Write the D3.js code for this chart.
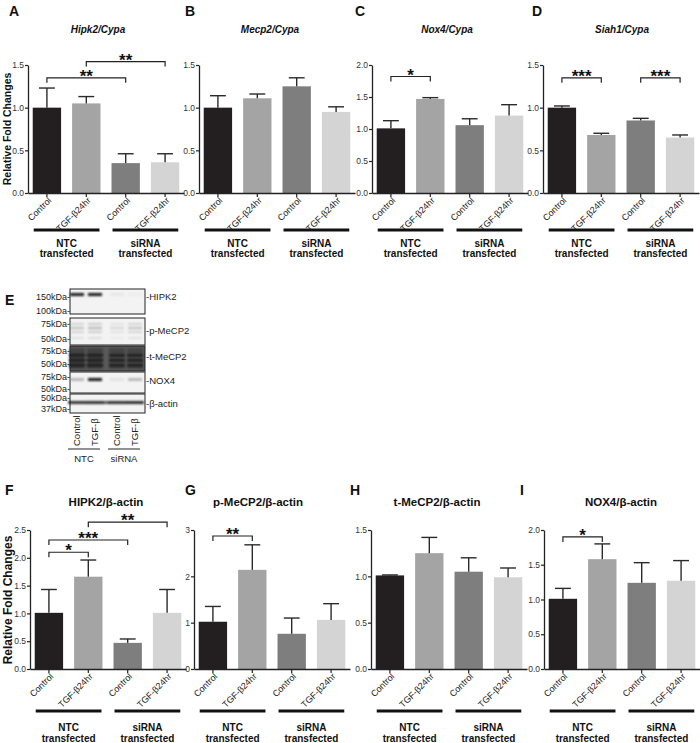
<!DOCTYPE html>
<html><head><meta charset="utf-8">
<script src="https://cdn.jsdelivr.net/npm/d3@7"></script>
<style>
body{margin:0;background:#fff;}
svg text{font-family:Arial,"Liberation Sans",sans-serif;}
</style></head>
<body><svg id="c" width="700" height="743"></svg>
<script>
// ---------------- DATA ----------------
const conditions = ["Control","TGF-β24hr","Control","TGF-β24hr"];
const groups = ["NTC","siRNA"];
const groupSub = "transfected";
const barColors = ["#231f20","#a4a4a4","#7e7e7e","#d4d4d4"];

const hipk2Mean = [1.00, 1.05, 0.35, 0.36];
const hipk2Err  = [1.23, 1.13, 0.46, 0.46];
const hipk2Sig  = [{a:0,b:2,y:1.35,label:"**"},{a:1,b:3,y:1.54,label:"**"}];

const mecp2Mean = [1.00, 1.11, 1.25, 0.95];
const mecp2Err  = [1.14, 1.16, 1.35, 1.01];
const mecp2Sig  = [];

const nox4Mean = [1.01, 1.47, 1.06, 1.21];
const nox4Err  = [1.13, 1.49, 1.16, 1.38];
const nox4Sig  = [{a:0,b:1,y:1.82,label:"*"}];

const siah1Mean = [1.00, 0.68, 0.85, 0.65];
const siah1Err  = [1.02, 0.70, 0.875, 0.68];
const siah1Sig  = [{a:0,b:1,y:1.35,label:"***"},{a:2,b:3,y:1.35,label:"***"}];

const HIPK2Mean = [1.01, 1.66, 0.47, 1.01];
const HIPK2Err  = [1.43, 1.96, 0.54, 1.43];
const HIPK2Sig  = [{a:0,b:1,y:2.10,label:"*"},{a:0,b:2,y:2.32,label:"***"},{a:1,b:3,y:2.64,label:"**"}];

const pMeCP2Mean = [1.02, 2.14, 0.76, 1.06];
const pMeCP2Err  = [1.35, 2.68, 1.10, 1.41];
const pMeCP2Sig  = [{a:0,b:1,y:2.87,label:"**"}];

const tMeCP2Mean = [1.01, 1.25, 1.05, 0.99];
const tMeCP2Err  = [1.015, 1.42, 1.20, 1.09];
const tMeCP2Sig  = [];

const NOX4Mean = [1.01, 1.58, 1.24, 1.27];
const NOX4Err  = [1.16, 1.80, 1.53, 1.56];
const NOX4Sig  = [{a:0,b:1,y:1.90,label:"*"}];

const ticks15 = [0,0.5,1.0,1.5];
const ticks20 = [0,0.5,1.0,1.5,2.0];
const ticks25 = [0,0.5,1.0,1.5,2.0,2.5];
const ticks3  = [0,1,2,3];

// Western blot
const blotLanes = ["Control","TGF-β","Control","TGF-β"];
const blotGroups = ["NTC","siRNA"];
const blotRows = ["HIPK2","p-MeCP2","t-MeCP2","NOX4","β-actin"];
const blotMarkers = [["150kDa","100kDa"],["75kDa","50kDa"],["75kDa","50kDa"],["75kDa","50kDa"],["50kDa","37kDa"]];
const blotIntensity = [[0.95,0.95,0.30,0.25],[0.55,0.6,0.45,0.55],[0.85,0.85,0.8,0.8],[0.55,0.95,0.35,0.55],[0.9,0.9,0.88,0.88]];

// ---------------- LAYOUT ----------------
const svg = d3.select("#c");
const W = 156;
const topRow = {y0:193, y1:65, groupY:230, ntcY:247, trY:257, titleY:33, letterY:16, ytitle:{x:11,y:129,size:10.5}};
const botRow = {y0:669, y1:530, groupY:711, ntcY:731, trY:742, titleY:506, letterY:495, ytitle:{x:12,y:600,size:12}};

const panels = [
  {row:topRow, ax:28,  letter:"A", lx:9,   title:"Hipk2/Cypa", tx:98,  italic:true, mean:hipk2Mean, err:hipk2Err, sig:hipk2Sig, max:1.5, ticks:ticks15, fmt:".1f", ylabel:true},
  {row:topRow, ax:199, letter:"B", lx:185, title:"Mecp2/Cypa", tx:270, italic:true, mean:mecp2Mean, err:mecp2Err, sig:mecp2Sig, max:1.5, ticks:ticks15, fmt:".1f"},
  {row:topRow, ax:372, letter:"C", lx:355, title:"Nox4/Cypa",  tx:447, italic:true, mean:nox4Mean, err:nox4Err, sig:nox4Sig, max:2.0, ticks:ticks20, fmt:".1f"},
  {row:topRow, ax:543, letter:"D", lx:532, title:"Siah1/Cypa", tx:622, italic:true, mean:siah1Mean, err:siah1Err, sig:siah1Sig, max:1.5, ticks:ticks15, fmt:".1f"},
  {row:botRow, ax:30,  letter:"F", lx:5,   title:"HIPK2/β-actin",   tx:106, italic:false, mean:HIPK2Mean, err:HIPK2Err, sig:HIPK2Sig, max:2.5, ticks:ticks25, fmt:".1f", ylabel:true},
  {row:botRow, ax:194, letter:"G", lx:185, title:"p-MeCP2/β-actin", tx:258, italic:false, mean:pMeCP2Mean, err:pMeCP2Err, sig:pMeCP2Sig, max:3, ticks:ticks3, fmt:"d"},
  {row:botRow, ax:371, letter:"H", lx:350, title:"t-MeCP2/β-actin", tx:437, italic:false, mean:tMeCP2Mean, err:tMeCP2Err, sig:tMeCP2Sig, max:1.5, ticks:ticks15, fmt:".1f"},
  {row:botRow, ax:544, letter:"I", lx:520, title:"NOX4/β-actin",    tx:621, italic:false, mean:NOX4Mean, err:NOX4Err, sig:NOX4Sig, max:2.0, ticks:ticks20, fmt:".1f"}
];

panels.forEach(p => {
  const r = p.row;
  const g = svg.append("g");
  const idx = d3.range(conditions.length);
  const x = d3.scaleBand().domain(idx).range([p.ax, p.ax + W]).paddingInner(0.28).paddingOuter(0.12);
  const y = d3.scaleLinear().domain([0, p.max]).range([r.y0, r.y1]);
  const bw = x.bandwidth();

  g.append("text").attr("x", p.lx).attr("y", r.letterY).text(p.letter)
    .attr("font-size", 14).attr("font-weight", "bold").attr("fill","#111");
  g.append("text").attr("x", p.tx).attr("y", r.titleY).text(p.title)
    .attr("text-anchor","middle").attr("font-size", p.italic ? 10 : 11.5)
    .attr("font-weight","bold").attr("font-style", p.italic ? "italic" : "normal").attr("fill","#111");

  if (p.ylabel) {
    g.append("text").attr("transform", `translate(${r.ytitle.x},${r.ytitle.y}) rotate(-90)`)
      .attr("text-anchor","middle").attr("font-size", r.ytitle.size).attr("font-weight","bold")
      .attr("fill","#111").text("Relative Fold Changes");
  }

  g.selectAll("rect.bar").data(p.mean).join("rect").attr("class","bar")
    .attr("x", (d,i) => x(i)).attr("width", bw)
    .attr("y", d => y(d)).attr("height", d => y(0) - y(d))
    .attr("fill", (d,i) => barColors[i]);

  const eb = g.selectAll("g.eb").data(p.err).join("g").attr("class","eb");
  eb.append("line").attr("x1",(d,i)=>x(i)+bw/2).attr("x2",(d,i)=>x(i)+bw/2)
    .attr("y1",(d,i)=>y(p.mean[i])).attr("y2",d=>y(d)).attr("stroke","#2a2a2a").attr("stroke-width",1.4);
  eb.append("line").attr("x1",(d,i)=>x(i)+bw/2-bw*0.28).attr("x2",(d,i)=>x(i)+bw/2+bw*0.28)
    .attr("y1",d=>y(d)).attr("y2",d=>y(d)).attr("stroke","#2a2a2a").attr("stroke-width",1.4);

  const yAxis = d3.axisLeft(y).tickValues(p.ticks).tickFormat(d3.format(p.fmt)).tickSize(3).tickSizeOuter(0);
  const ya = g.append("g").attr("transform", `translate(${p.ax},0)`).call(yAxis);
  ya.select(".domain").attr("stroke","#222").attr("stroke-width",1.3);
  ya.selectAll(".tick line").attr("stroke","#222").attr("stroke-width",1.2);
  ya.selectAll(".tick text").attr("font-size",8.5).attr("fill","#333").attr("x",-4)
    .style("font-family","'Liberation Sans Narrow','Arial Narrow',Arial,sans-serif");

  const xAxis = d3.axisBottom(x).tickSize(4).tickSizeOuter(0).tickFormat(i => conditions[i]);
  const xa = g.append("g").attr("transform", `translate(0,${r.y0})`).call(xAxis);
  xa.select(".domain").attr("stroke","#222").attr("stroke-width",1.4);
  xa.selectAll(".tick line").attr("stroke","#222").attr("stroke-width",1.2);
  xa.selectAll(".tick text").attr("font-size",9).attr("fill","#222")
    .attr("text-anchor","end").attr("dy",0).attr("y",0)
    .attr("transform","translate(5,8) rotate(-45)");

  p.sig.forEach(s => {
    const xa1 = x(s.a) + bw/2, xb1 = x(s.b) + bw/2, yy = y(s.y);
    g.append("path").attr("d", `M${xa1},${yy+5}V${yy}H${xb1}V${yy+5}`)
      .attr("fill","none").attr("stroke","#222").attr("stroke-width",1.2);
    g.append("text").attr("x",(xa1+xb1)/2).attr("y",yy+4).attr("text-anchor","middle")
      .attr("font-size",17).attr("font-weight","bold").attr("fill","#111").text(s.label);
  });

  [[0,1],[2,3]].forEach((pair, gi) => {
    const gx1 = x(pair[0]) + 1, gx2 = x(pair[1]) + bw - 1;
    g.append("line").attr("x1",gx1).attr("x2",gx2).attr("y1",r.groupY).attr("y2",r.groupY)
      .attr("stroke","#111").attr("stroke-width",3);
    const cx = (gx1 + gx2)/2;
    g.append("text").attr("x",cx).attr("y",r.ntcY).attr("text-anchor","middle")
      .attr("font-size",10).attr("font-weight","bold").attr("fill","#111").text(groups[gi]);
    g.append("text").attr("x",cx).attr("y",r.trY).attr("text-anchor","middle")
      .attr("font-size",10).attr("font-weight","bold").attr("fill","#111").text(groupSub);
  });
});

// ---------------- WESTERN BLOT (E) ----------------
const defs = svg.append("defs");
defs.append("filter").attr("id","blur").attr("x","-20%").attr("y","-50%").attr("width","140%").attr("height","200%")
  .append("feGaussianBlur").attr("stdDeviation",0.9);

const eg = svg.append("g");
eg.append("text").attr("x",5).attr("y",305).text("E").attr("font-size",14).attr("font-weight","bold").attr("fill","#111");

const boxX0 = 70, boxX1 = 145;
const laneCenters = [77, 95, 117, 135];
const boxes = [[289,314],[318,345],[346,371],[372,393],[394,413]];
const markerY = [[297,311],[324,339],[351,364],[377,389],[398,409]];
const rowLabelY = [297,331,357,381,404];

blotRows.forEach((name, ri) => {
  const [t,b] = boxes[ri];
  eg.append("rect").attr("x",boxX0).attr("y",t).attr("width",boxX1-boxX0).attr("height",b-t)
    .attr("fill", ri===2 ? "#5a5a5a" : "#f3f3f3").attr("stroke","#222").attr("stroke-width",1);
  const bandG = eg.append("g").attr("filter","url(#blur)");
  blotIntensity[ri].forEach((v, li) => {
    const cx = laneCenters[li];
    const col = d3.interpolateGreys(v);
    if (ri === 0) {
      bandG.append("rect").attr("x",cx-7).attr("y",t+4).attr("width",14).attr("height",3).attr("fill",col).attr("opacity",v);
    } else if (ri === 1) {
      [t+5, t+9, t+13, t+19].forEach((yy,k) => bandG.append("rect").attr("x",cx-7).attr("y",yy)
        .attr("width",14).attr("height",2).attr("fill",d3.interpolateGreys(v*(k===1?1:0.75))).attr("opacity",v*(k===3?0.5:0.9)));
    } else if (ri === 2) {
      bandG.append("rect").attr("x",cx-8).attr("y",t+2).attr("width",16).attr("height",b-t-4).attr("fill","#2a2a2a").attr("opacity",v*0.6);
      [t+8, t+13, t+18].forEach(yy => bandG.append("rect").attr("x",cx-8).attr("y",yy)
        .attr("width",16).attr("height",2.5).attr("fill","#111").attr("opacity",v));
    } else if (ri === 3) {
      bandG.append("rect").attr("x",cx-7).attr("y",t+6).attr("width",14).attr("height",3).attr("fill",col).attr("opacity",v);
    } else {
      bandG.append("rect").attr("x",boxX0+2).attr("y",t+7).attr("width",boxX1-boxX0-4).attr("height",3).attr("fill","#333").attr("opacity",0.35);
      bandG.append("rect").attr("x",cx-9).attr("y",t+7).attr("width",18).attr("height",3).attr("fill",col).attr("opacity",v);
    }
  });
  blotMarkers[ri].forEach((m, mi) => {
    eg.append("text").attr("x",boxX0).attr("y",markerY[ri][mi]+3).attr("text-anchor","end")
      .attr("font-size",9).attr("fill","#222").text(m + "-");
  });
  eg.append("text").attr("x",boxX1+1).attr("y",rowLabelY[ri]+3).attr("font-size",9.5).attr("fill","#222").text("-" + name);
});

blotLanes.forEach((l, li) => {
  eg.append("text").attr("transform",`translate(${laneCenters[li]+3},446) rotate(-90)`)
    .attr("font-size",9.5).attr("fill","#222").text(l);
});
[[0,1],[2,3]].forEach((pair, gi) => {
  const x1 = laneCenters[pair[0]] - 9, x2 = laneCenters[pair[1]] + 5;
  eg.append("line").attr("x1",x1).attr("x2",x2).attr("y1",449).attr("y2",449).attr("stroke","#222").attr("stroke-width",1);
  eg.append("text").attr("x",(x1+x2)/2).attr("y",462).attr("text-anchor","middle").attr("font-size",9.5).attr("fill","#222").text(blotGroups[gi]);
});
</script>
</body></html>
